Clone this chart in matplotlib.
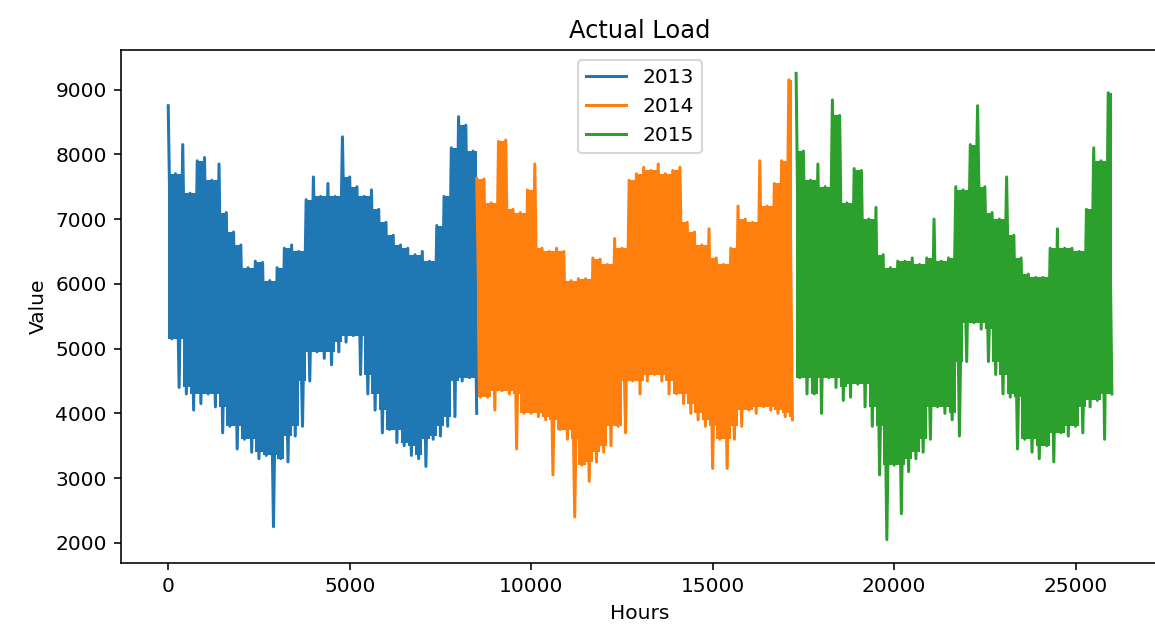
import numpy as np
import matplotlib
matplotlib.use('Agg')
from matplotlib import pyplot as plt

hours_2013 = np.arange(0, 8500, 200)
high_2013 = [8750, 7700, 8150, 7400, 7900, 7950, 7600, 7850, 7100, 6800,
             6600, 6250, 6350, 6330, 6050, 6250, 6550, 6600, 6500, 7300,
             7650, 7350, 7550, 7350, 8270, 7650, 7500, 7350, 7450, 7150,
             6950, 6750, 6600, 6550, 6450, 6500, 6350, 6900, 7350, 8100,
             8580, 8450, 8050]
low_2013 = [5150, 4400, 4300, 4050, 4150, 4300, 4100, 3700, 3800, 3450,
            3600, 3400, 3300, 3350, 2250, 3300, 3250, 3650, 3800, 4500,
            4950, 4850, 4750, 4950, 5100, 5200, 4600, 4300, 4050, 3700,
            3750, 3550, 3500, 3350, 3300, 3180, 3600, 3650, 3800, 3950,
            4500, 4550, 4000]

hours_2014 = np.arange(8500, 17300, 200)
high_2014 = [7630, 7620, 7250, 8200, 8220, 7150, 7100, 7450, 7850, 6550,
             6500, 6550, 6500, 6050, 6080, 6080, 6400, 6380, 6300, 6700,
             6550, 7600, 7700, 7800, 7750, 7850, 7700, 7750, 7800, 6950,
             6800, 6600, 6850, 6400, 6300, 6550, 7200, 7000, 6950, 7900,
             7200, 7550, 7900, 9150]
low_2014 = [4250, 4250, 4050, 4350, 4300, 3450, 4000, 4000, 3950, 3900,
            3050, 3750, 3600, 2400, 3200, 2950, 3250, 3400, 3500, 3800,
            3700, 4500, 4300, 4500, 4600, 4500, 4300, 4300, 4150, 4000,
            3900, 3800, 3150, 3600, 3150, 3600, 3800, 4050, 4000, 4100,
            4050, 4000, 3950, 3900]

hours_2015 = np.arange(17300, 26100, 200)
high_2015 = [9250, 8050, 7600, 7850, 7500, 8840, 8600, 7250, 7780, 7750,
             7000, 7180, 6450, 6250, 6350, 6350, 6400, 6300, 6400, 7000,
             6350, 6400, 7500, 7450, 8150, 8750, 7500, 7100, 7000, 7650,
             6750, 6400, 6150, 6100, 6100, 6550, 6850, 6550, 6550, 6500,
             7150, 8100, 7900, 8950]
low_2015 = [4550, 4300, 4300, 4000, 4550, 4400, 4200, 4250, 4450, 4100,
            3800, 3050, 2050, 3200, 2450, 3100, 3300, 3400, 3600, 4100,
            4000, 3900, 3650, 4800, 5400, 5300, 4800, 4600, 4300, 4250,
            3450, 3600, 3400, 3300, 3500, 3250, 3700, 3650, 3800, 3700,
            4100, 4200, 3600, 4300]

years = ['2013', '2014', '2015']
colors = ['tab:blue', 'tab:orange', 'tab:green']
series = [(hours_2013, high_2013, low_2013),
          (hours_2014, high_2014, low_2014),
          (hours_2015, high_2015, low_2015)]

fig = plt.figure(figsize=(1155 / 145, 637 / 145), dpi=145)
ax = fig.add_axes([0.1048, 0.1162, 0.8987, 0.8053])

for (hrs, hi, lo), year, c in zip(series, years, colors):
    hi = np.asarray(hi)
    lo = np.asarray(lo)
    # peaks at the sample hour, troughs half a step later
    x = np.column_stack([hrs, hrs + 100]).ravel()
    y = np.column_stack([hi, lo]).ravel()
    # solid core of the band; the line's strokes stick out as spikes
    hp = np.pad(hi, 1, mode='edge')
    lp = np.pad(lo, 1, mode='edge')
    top = np.minimum(hp[1:-1], hp[2:])
    bot = np.maximum(np.maximum(lp[:-2], lp[1:-1]), lp[2:])
    xf = np.r_[hrs[0], hrs + 100]
    ax.fill_between(xf, np.r_[bot[0], bot], np.r_[top[0], top],
                    step='mid', color=c, lw=0)
    ax.plot(x, y, color=c, lw=1.5, label=year)

ax.set_title('Actual Load')
ax.set_xlabel('Hours')
ax.set_ylabel('Value')
ax.legend(loc='upper center')

fig.savefig('out.png', dpi=145)
